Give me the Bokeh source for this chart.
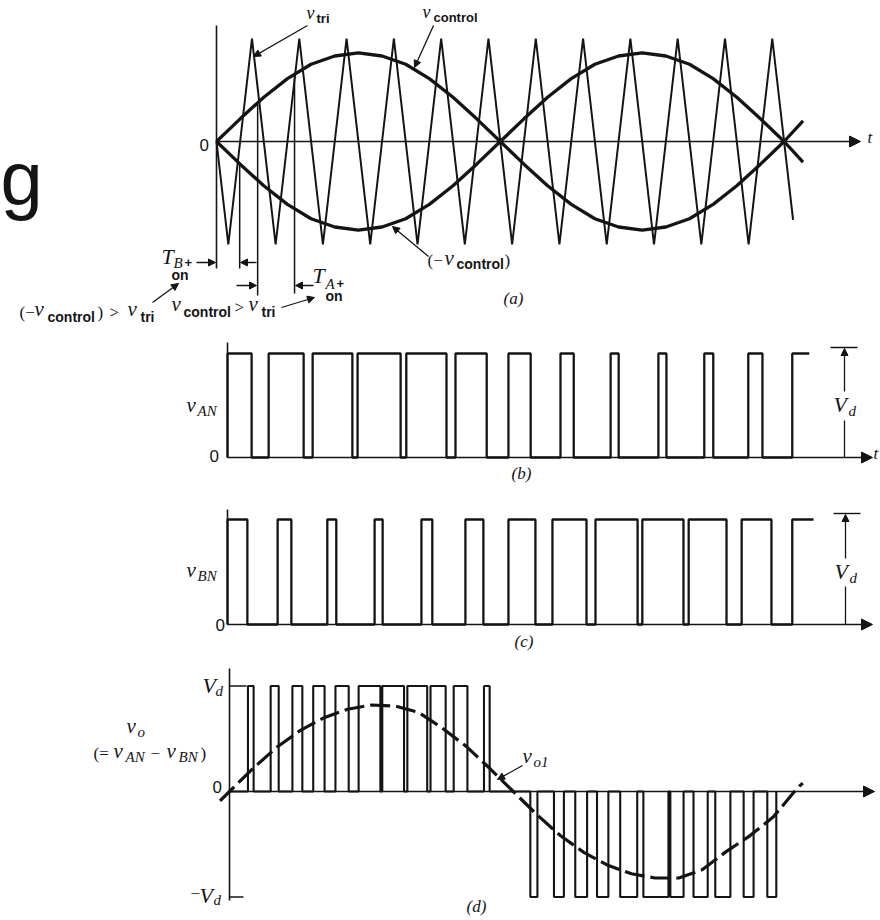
from bokeh.plotting import figure
from bokeh.layouts import column
from bokeh.models import Label, Arrow, NormalHead, Range1d
from bokeh.embed import file_html
from bokeh.resources import INLINE

# ---------------- data (time in carrier periods Ts, amplitude in units) ----------------
# (a) triangular carrier vertices
TRI_T = [0.0, 0.25, 0.75, 1.25, 1.75, 2.25, 2.75, 3.25, 3.75, 4.25, 4.75, 5.25, 5.75,
         6.25, 6.75, 7.25, 7.75, 8.25, 8.75, 9.25, 9.75, 10.25, 10.75, 11.25, 11.75, 12.19]
TRI_V = [0.0, -1, 1, -1, 1, -1, 1, -1, 1, -1, 1, -1, 1,
         -1, 1, -1, 1, -1, 1, -1, 1, -1, 1, -1, 1, -0.76]
# (a) control signal samples
CTRL_T = [0.0, 0.5, 1.0, 1.5, 2.0, 2.5, 3.0, 3.5, 4.0, 4.5, 5.0, 5.5, 6.0,
          6.5, 7.0, 7.5, 8.0, 8.5, 9.0, 9.5, 10.0, 10.5, 11.0, 11.5, 12.0, 12.4]
CTRL_V = [0.0, 0.22, 0.43, 0.61, 0.75, 0.83, 0.86, 0.83, 0.75, 0.61, 0.43, 0.22, 0.0,
          -0.22, -0.43, -0.61, -0.75, -0.83, -0.86, -0.83, -0.75, -0.61, -0.43, -0.22, 0.0, 0.20]
# (a) switching-instant guide lines
GUIDE_T = [0.49, 0.87, 1.65]
GUIDE_TOP = [-0.22, 0.38, 0.65]

# (b) v_AN pulse edges
VAN_RISE = [0.00, 0.87, 1.80, 2.75, 3.78, 4.82, 5.94, 7.04, 8.10, 9.11, 10.08, 11.01, 11.94]
VAN_FALL = [0.51, 1.61, 2.64, 3.66, 4.63, 5.48, 6.41, 7.32, 8.27, 9.28, 10.27, 11.31]
VAN_END = 12.30
# (c) v_BN pulse edges
VBN_RISE = [0.00, 1.06, 2.11, 3.11, 4.10, 5.03, 5.94, 6.87, 7.78, 8.77, 9.75, 10.87, 11.94]
VBN_FALL = [0.42, 1.35, 2.30, 3.28, 4.33, 5.41, 6.51, 7.59, 8.67, 9.64, 10.55, 11.50]
VBN_END = 12.39
# (d) v_o pulses
VO_POS_START = [0.39, 0.87, 1.33, 1.77, 2.24, 2.73, 3.23, 3.76, 4.25, 4.74, 5.38]
VO_POS_END = [0.51, 1.04, 1.54, 2.01, 2.52, 3.19, 3.69, 4.18, 4.57, 5.03, 5.50]
VO_NEG_START = [6.36, 6.86, 7.31, 7.77, 8.26, 8.75, 9.32, 9.81, 10.27, 10.87, 11.37]
VO_NEG_END = [6.51, 7.07, 7.56, 8.01, 8.62, 9.28, 9.60, 10.11, 10.59, 11.08, 11.56]
# (d) fundamental v_o1 samples
VO1_T = [-0.2, 0.0, 0.5, 1.0, 1.5, 2.0, 2.5, 3.0, 3.5, 4.0, 4.5, 5.0, 5.5, 6.0,
         6.5, 7.0, 7.5, 8.0, 8.5, 9.0, 9.5, 10.0, 10.5, 11.0, 11.5, 12.0, 12.12]
VO1_V = [-0.09, 0.0, 0.22, 0.42, 0.58, 0.70, 0.78, 0.82, 0.81, 0.75, 0.60, 0.43, 0.22, 0.0,
         -0.22, -0.42, -0.58, -0.70, -0.78, -0.82, -0.82, -0.74, -0.57, -0.42, -0.24, 0.03, 0.08]

# ---------------- layout (reference pixel geometry of each panel) ----------------
SX = 47.3   # px per carrier period
W = 880
PANELS = {
    "a": dict(x0=216, y0=141, sy=103, top=0, h=334),
    "b": dict(x0=227, y0=457, sy=104, top=334, h=154),
    "c": dict(x0=227, y0=624, sy=105, top=488, h=168),
    "d": dict(x0=229, y0=791, sy=105.5, top=656, h=262),
}
INK = "#141414"


def tx(P, xr):
    return (xr - P["x0"]) / SX


def vy(P, yr):
    return (P["y0"] - yr) / P["sy"]


def make_fig(P):
    p = figure(width=W, height=P["h"],
               x_range=Range1d(tx(P, 0), tx(P, W)),
               y_range=Range1d(vy(P, P["top"] + P["h"]), vy(P, P["top"])),
               toolbar_location=None, output_backend="svg",
               x_axis_type=None, y_axis_type=None, title=None,
               min_border=0, min_border_left=0, min_border_right=0,
               min_border_top=0, min_border_bottom=0,
               outline_line_color=None, background_fill_color="white",
               border_fill_color="white")
    return p


KIND = {
    "v": ("Liberation Serif", "italic", 21),
    "vs": ("Liberation Serif", "italic", 18),
    "T": ("Liberation Serif", "italic", 22),
    "sub": ("Liberation Sans", "bold", 14),
    "subs": ("Liberation Sans", "bold", 13),
    "subi": ("Liberation Serif", "italic", 15),
    "num": ("Liberation Sans", "normal", 17),
    "cap": ("Liberation Serif", "italic", 17),
    "sym": ("Liberation Serif", "normal", 17),
    "big": ("Liberation Sans", "normal", 76),
}


def labels(p, P, items):
    # items: (left x, baseline y) in reference pixels
    for xr, yr, text, kind in items:
        font, style, fs = KIND[kind]
        p.add_layout(Label(x=tx(P, xr), y=vy(P, yr - 0.34 * fs), text=text, text_color=INK,
                           text_baseline="alphabetic", text_align="left",
                           text_font=font, text_font_style=style, text_font_size=f"{fs}px"))


def arrow(p, P, x1, y1, x2, y2, size=7, lw=1.3):
    p.add_layout(Arrow(end=NormalHead(size=size, fill_color=INK, line_color=INK, line_width=1),
                       x_start=tx(P, x1), y_start=vy(P, y1), x_end=tx(P, x2), y_end=vy(P, y2),
                       line_color=INK, line_width=lw))


def seg(p, P, x1, y1, x2, y2, lw=1.5):
    p.segment(x0=[tx(P, x1)], y0=[vy(P, y1)], x1=[tx(P, x2)], y1=[vy(P, y2)],
              line_color=INK, line_width=lw)


# ================= (a) =================
A = PANELS["a"]
pa = make_fig(A)
seg(pa, A, 216, 25, 216, 268, 1.6)                 # vertical axis
arrow(pa, A, 216, 141, 860, 141, size=11, lw=1.5)  # time axis
pa.line(TRI_T, TRI_V, line_color=INK, line_width=2.0)
pa.line(CTRL_T, CTRL_V, line_color=INK, line_width=3.3)
pa.line(CTRL_T, [-v for v in CTRL_V], line_color=INK, line_width=3.3)
guide_bottom = [vy(A, 268), vy(A, 295), vy(A, 293)]
pa.segment(x0=GUIDE_T, y0=GUIDE_TOP, x1=GUIDE_T, y1=guide_bottom, line_color=INK, line_width=1.5)
# interval arrows
arrow(pa, A, 196, 262, 215, 262)
arrow(pa, A, 256, 262, 240, 262)
arrow(pa, A, 236, 285, 256, 285)
arrow(pa, A, 313, 285, 295, 285)
# pointers
arrow(pa, A, 307, 25, 253, 56)
arrow(pa, A, 433, 25, 414, 67)
arrow(pa, A, 428, 256, 392, 226)
arrow(pa, A, 152, 302, 178, 283)
arrow(pa, A, 281, 307, 314, 297)
labels(pa, A, [
    (0, 204, "g", "big"),
    (306, 19, "v", "vs"), (316, 22, "tri", "subs"),
    (422, 18, "v", "vs"), (433, 21, "control", "subs"),
    (199, 150, "0", "num"),
    (867, 143, "t", "cap"),
    (427, 266, "(−", "sym"), (444, 265, "v", "v"), (456, 268, "control", "sub"), (504, 266, ")", "sym"),
    (503, 304, "(a)", "cap"),
    (161, 263, "T", "T"), (173, 268, "B", "subi"), (184, 266, "+", "subs"), (171, 279, "on", "sub"),
    (312, 282, "T", "T"), (325, 289, "A", "subi"), (336, 287, "+", "subs"), (325, 300, "on", "sub"),
    (19, 318, "(−", "sym"), (34, 316, "v", "v"), (47, 321, "control", "sub"), (97, 318, ")", "sym"),
    (109, 318, ">", "sym"), (127, 316, "v", "v"), (140, 321, "tri", "sub"),
    (171, 311, "v", "v"), (183, 316, "control", "sub"), (234, 313, ">", "sym"),
    (248, 311, "v", "v"), (261, 316, "tri", "sub"),
])


# ================= (b), (c) =================
def pulse_line(rise, fall, end):
    xs, ys = [], []
    for r, f in zip(rise, fall):
        xs += [r, r, f, f]
        ys += [0, 1, 1, 0]
    xs += [rise[-1], rise[-1], end]
    ys += [0, 1, 1]
    return xs, ys


def switch_panel(P, rise, fall, end, vline_x, top_y, gap, tick, lbl):
    p = make_fig(P)
    seg(p, P, P["x0"], P["y0"] - 115, P["x0"], P["y0"], 1.6)
    arrow(p, P, P["x0"], P["y0"], 872, P["y0"], size=11, lw=1.5)
    xs, ys = pulse_line(rise, fall, end)
    p.line(xs, ys, line_color=INK, line_width=2.3)
    # V_d dimension arrow
    seg(p, P, tick[0], top_y, tick[1], top_y, 1.4)
    seg(p, P, vline_x, P["y0"], vline_x, gap[1], 1.3)
    arrow(p, P, vline_x, gap[0], vline_x, top_y + 1, size=7, lw=1.3)
    labels(p, P, lbl)
    return p


B = PANELS["b"]
pb = switch_panel(B, VAN_RISE, VAN_FALL, VAN_END, 844, 347, (391, 420), (830, 857), [
    (186, 412, "v", "v"), (197, 416, "AN", "subi"),
    (209, 461, "0", "num"),
    (511, 479, "(b)", "cap"),
    (833, 411, "V", "T"), (848, 416, "d", "subi"),
    (873, 459, "t", "cap"),
])

C = PANELS["c"]
pc = switch_panel(C, VBN_RISE, VBN_FALL, VBN_END, 845, 513, (558, 586), (833, 860), [
    (186, 577, "v", "v"), (197, 581, "BN", "subi"),
    (215, 630, "0", "num"),
    (514, 647, "(c)", "cap"),
    (834, 578, "V", "T"), (849, 583, "d", "subi"),
])

# ================= (d) =================
D = PANELS["d"]
pd_ = make_fig(D)
seg(pd_, D, 229, 668, 229, 900, 1.6)
arrow(pd_, D, 229, 791, 874, 791, size=11, lw=1.5)
pd_.segment(x0=[0, 0], y0=[1, -1], x1=[tx(D, 246), tx(D, 243)], y1=[1, -1], line_color=INK, line_width=1.5)
pulses = sorted([(s, e, 1) for s, e in zip(VO_POS_START, VO_POS_END)] +
                [(s, e, -1) for s, e in zip(VO_NEG_START, VO_NEG_END)])
xs, ys = [0.0], [0.0]
for s, e, sg in pulses:
    xs += [s, s, e, e]
    ys += [0, sg, sg, 0]
pd_.line(xs, ys, line_color=INK, line_width=2.1)
pd_.line(VO1_T, VO1_V, line_color=INK, line_width=3.2, line_dash="20 6")
arrow(pd_, D, 522, 765, 497, 779)
labels(pd_, D, [
    (202, 692, "V", "T"), (215, 696, "d", "subi"),
    (212, 792, "0", "num"),
    (190, 899, "−", "sym"), (199, 902, "V", "T"), (213, 905, "d", "subi"),
    (126, 733, "v", "v"), (137, 737, "o", "subi"),
    (93, 759, "(=", "sym"), (113, 758, "v", "v"), (125, 762, "AN", "subi"),
    (150, 759, "−", "sym"), (166, 758, "v", "v"), (178, 762, "BN", "subi"), (200, 759, ")", "sym"),
    (522, 763, "v", "v"), (533, 767, "o1", "subi"),
    (466, 912, "(d)", "cap"),
])

layout = column(pa, pb, pc, pd_, spacing=0)
open("out.html", "w").write(file_html(layout, INLINE))
